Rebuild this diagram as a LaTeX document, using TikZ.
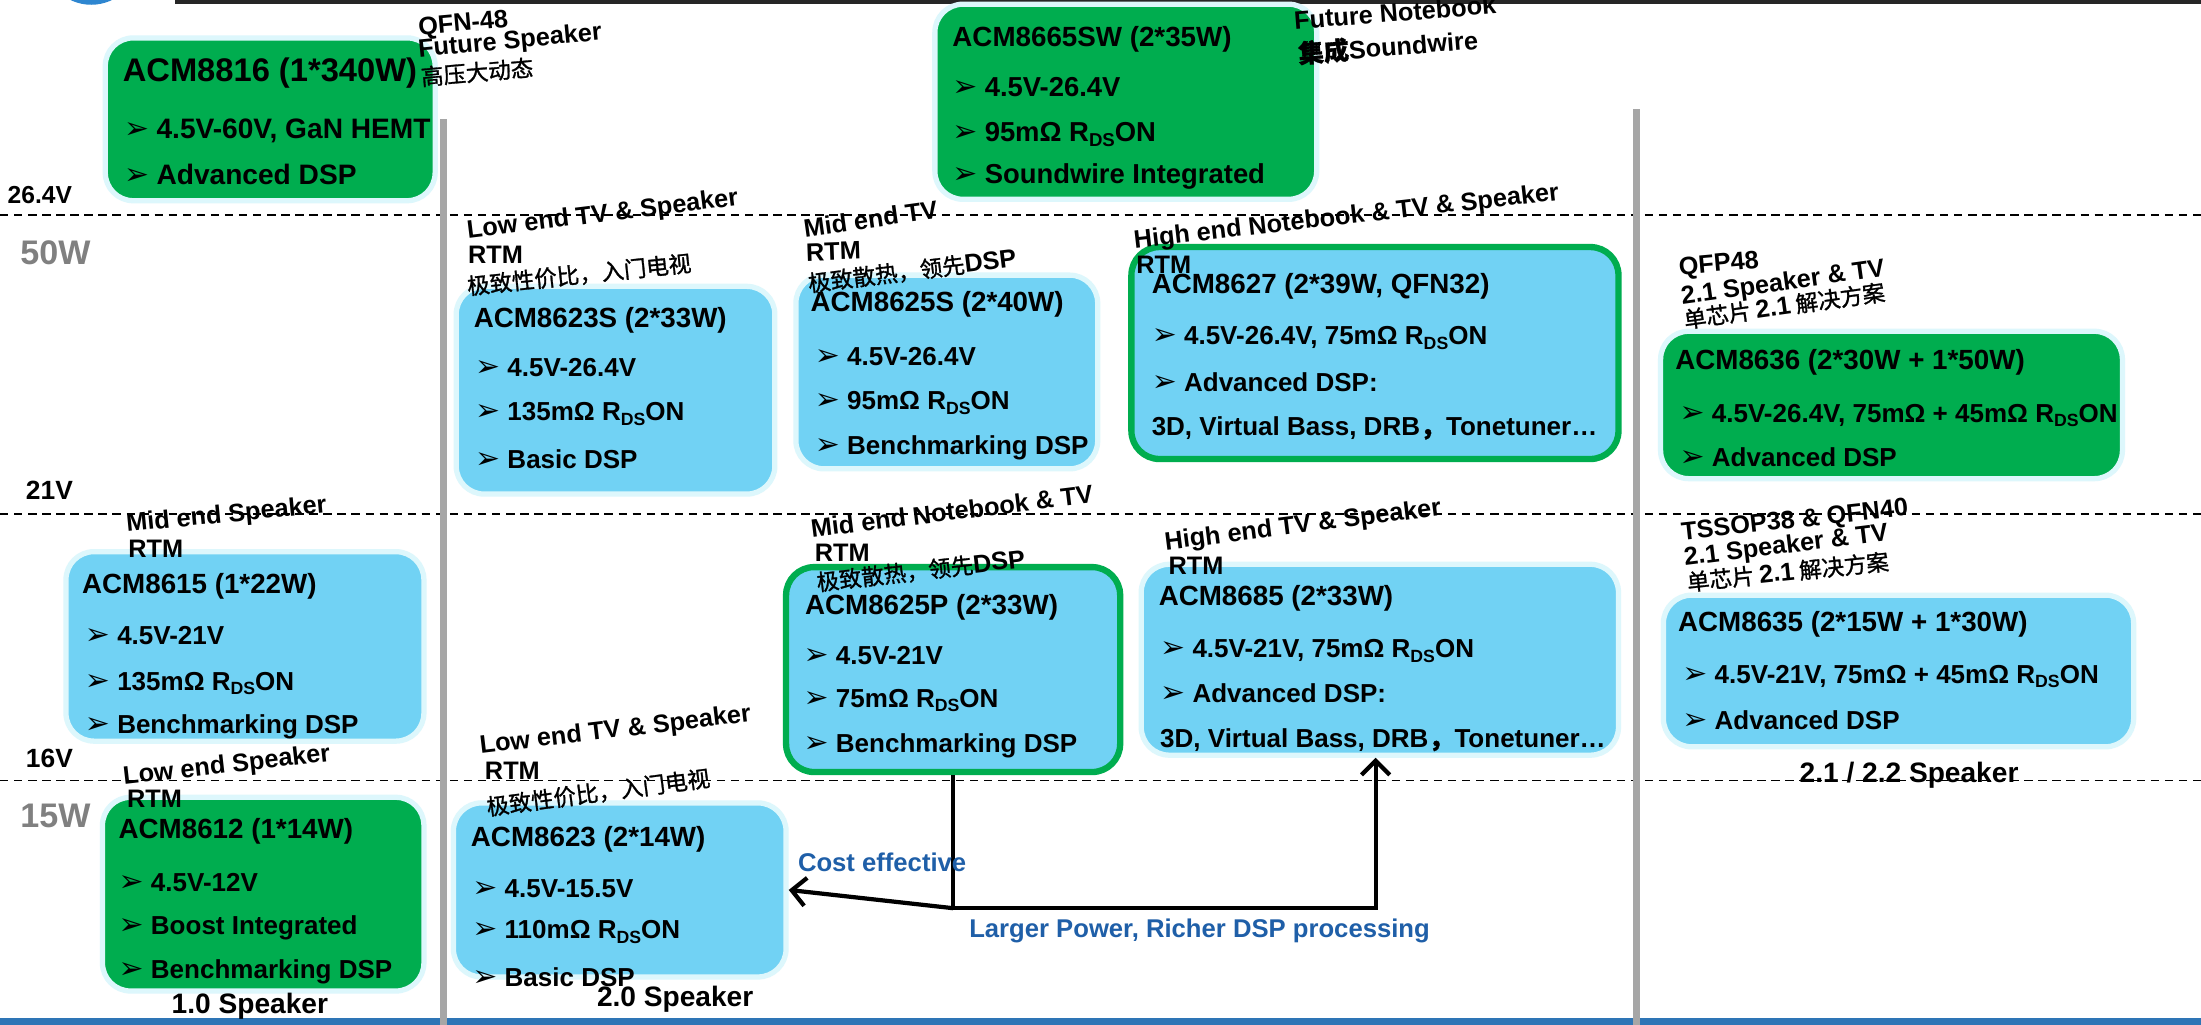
\documentclass[tikz,border=0pt]{standalone}
\usepackage{fontspec}
\usepackage{graphicx}
\setmainfont{Liberation Sans}
\newfontfamily\cjk{Noto Sans CJK SC}[FakeBold=1.2]
\newfontfamily\dejavu{DejaVu Sans}
\usetikzlibrary{fit,arrows.meta}
\definecolor{cgreen}{HTML}{00AD4F}
\definecolor{cblue}{HTML}{71D2F4}
\definecolor{chalo}{HTML}{DDF7FC}
\definecolor{cvline}{HTML}{A6A6A6}
\definecolor{cgrayt}{HTML}{808080}
\definecolor{cbluet}{HTML}{1F5FA8}
\definecolor{cband}{HTML}{2E75B6}
\definecolor{cdot}{HTML}{2E86D0}
\definecolor{cdark}{HTML}{262626}
\newcommand\arr{\makebox[9.2pt][l]{\dejavu\fontsize{8.5}{8.5}\selectfont ➢}}
\newcommand\rds{R\raisebox{-0.35ex}{\scalebox{0.68}{DS}}ON}
\newcommand\lat[1]{{\rmfamily\bfseries\fontsize{7.2}{7.2}\selectfont #1}}
\tikzset{
  chip/.style={rounded corners=8pt, inner sep=0pt},
  gbox/.style={chip, fill=cgreen, draw=chalo, line width=1.5pt},
  lbox/.style={chip, fill=cblue, draw=chalo, line width=1.5pt},
  kbox/.style={chip, fill=cblue, draw=cgreen, line width=1.8pt},
  ttl/.style={anchor=west, inner sep=0pt, font=\bfseries\fontsize{#1}{#1}\selectfont},
  ttl/.default=7.9,
  btxt/.style={anchor=west, inner sep=0pt, font=\bfseries\fontsize{#1}{#1}\selectfont},
  btxt/.default=7.4,
  note/.style={anchor=base west, inner sep=0pt, font=\bfseries\fontsize{7.2}{7.2}\selectfont},
  cnote/.style={anchor=base west, inner sep=0pt, font=\cjk\fontsize{6.4}{6.4}\selectfont},
  lvl/.style={anchor=west, inner sep=0pt, font=\bfseries\fontsize{7.5}{7.5}\selectfont},
  pwr/.style={anchor=west, inner sep=0pt, text=cgrayt, font=\bfseries\fontsize{9.7}{9.7}\selectfont},
  spk/.style={inner sep=0pt, font=\bfseries\fontsize{8}{8}\selectfont},
  bluet/.style={anchor=west, inner sep=0pt, text=cbluet, font=\bfseries\fontsize{7.3}{7.3}\selectfont},
  conn/.style={line width=1.2pt, black},
  tip/.style={-{Straight Barb[length=4pt,width=8pt,line width=1.2pt]}},
  dline/.style={black, line width=0.5pt, dash pattern=on 2.4pt off 1.6pt},
  vline/.style={cvline, line width=2pt}
}
\begin{document}
\begin{tikzpicture}[x=0.014037cm, y=-0.014037cm]
\useasboundingbox (0,0) rectangle (1568,730);
\fill[white] (0,0) rectangle (1568,730);
% frame decorations
\fill[cdark] (125,0) rectangle (1568,2.9);
\fill[cdot] (65,-30.4) circle[radius=13.5pt];
\fill[cband] (0,725.5) rectangle (1568,730);
% level lines
\draw[dline] (0,153) -- (1568,153);
\draw[dline] (0,366) -- (1568,366);
\draw[dline] (0,556) -- (1568,556);
\draw[vline] (316,85) -- (316,730);
\draw[vline] (1166,78) -- (1166,730);
% level labels
\node[lvl, font=\bfseries\fontsize{7}{7}\selectfont] (l264) at (5,139) {26.4V};
\node[pwr] (l50) at (14,180) {50W};
\node[lvl] (l21) at (18,349) {21V};
\node[lvl] (l16) at (18,540) {16V};
\node[pwr] (l15) at (14,581) {15W};
% boxes
\node[gbox, fit={(75,27)(310,143)}] (b8816) {};
\node[gbox, fit={(666,3)(938,142)}] (b8665) {};
\node[lbox, fit={(325,204)(552,352)}] (b8623S) {};
\node[lbox, fit={(567,196)(782,334)}] (b8625S) {};
\node[kbox, fit={(806,176)(1153,327)}] (b8627) {};
\node[gbox, fit={(1183,236)(1512,341)}] (b8636) {};
\node[lbox, fit={(47,393)(302,528)}] (b8615) {};
\node[kbox, fit={(560,404)(798,550)}] (b8625P) {};
\node[lbox, fit={(813,402)(1153,538)}] (b8685) {};
\node[lbox, fit={(1185,424)(1520,532)}] (b8635) {};
\node[gbox, fit={(73,568)(302,706)}] (b8612) {};
\node[lbox, fit={(323,572)(560,696)}] (b8623) {};
% ACM8816
\node[ttl=9.3] (t8816) at (87,52) {ACM8816 (1*340W)};
\node[btxt=8] (t8816a) at (88,93) {\arr 4.5V-60V, GaN HEMT};
\node[btxt=8] (t8816b) at (88,124) {\arr Advanced DSP};
% ACM8665SW
\node[ttl] (t8665) at (678,28) {ACM8665SW (2*35W)};
\node[btxt=7.8] (t8665a) at (678,62) {\arr 4.5V-26.4V};
\node[btxt=7.8] (t8665b) at (678,96) {\arr 95mΩ \rds};
\node[btxt=7.8] (t8665c) at (678,126) {\arr Soundwire Integrated};
% ACM8623S
\node[ttl] (t8623S) at (337,228) {ACM8623S (2*33W)};
\node[btxt] (t8623Sa) at (338,262) {\arr 4.5V-26.4V};
\node[btxt] (t8623Sb) at (338,295) {\arr 135mΩ \rds};
\node[btxt] (t8623Sc) at (338,327) {\arr Basic DSP};
% ACM8625S
\node[ttl] (t8625S) at (577,217) {ACM8625S (2*40W)};
\node[btxt] (t8625Sa) at (580,254) {\arr 4.5V-26.4V};
\node[btxt] (t8625Sb) at (580,287) {\arr 95mΩ \rds};
\node[btxt] (t8625Sc) at (580,319) {\arr Benchmarking DSP};
% ACM8627
\node[ttl] (t8627) at (820,204) {ACM8627 (2*39W, QFN32)};
\node[btxt] (t8627a) at (820,241) {\arr 4.5V-26.4V, 75mΩ \rds};
\node[btxt] (t8627b) at (820,272) {\arr Advanced DSP:};
\node[btxt] (t8627c) at (820,305) {3D, Virtual Bass, DRB{\cjk ，}Tonetuner…};
% ACM8636
\node[ttl] (t8636) at (1193,258) {ACM8636 (2*30W + 1*50W)};
\node[btxt] (t8636a) at (1196,296) {\arr 4.5V-26.4V, 75mΩ + 45mΩ \rds};
\node[btxt] (t8636b) at (1196,326) {\arr Advanced DSP};
% ACM8615
\node[ttl] (t8615) at (58,418) {ACM8615 (1*22W)};
\node[btxt] (t8615a) at (60,453) {\arr 4.5V-21V};
\node[btxt] (t8615b) at (60,487) {\arr 135mΩ \rds};
\node[btxt] (t8615c) at (60,518) {\arr Benchmarking DSP};
% ACM8625P
\node[ttl] (t8625P) at (573,433) {ACM8625P (2*33W)};
\node[btxt] (t8625Pa) at (572,467) {\arr 4.5V-21V};
\node[btxt] (t8625Pb) at (572,499) {\arr 75mΩ \rds};
\node[btxt] (t8625Pc) at (572,531) {\arr Benchmarking DSP};
% ACM8685
\node[ttl] (t8685) at (825,426) {ACM8685 (2*33W)};
\node[btxt] (t8685a) at (826,464) {\arr 4.5V-21V, 75mΩ \rds};
\node[btxt] (t8685b) at (826,494) {\arr Advanced DSP:};
\node[btxt] (t8685c) at (826,527) {3D, Virtual Bass, DRB{\cjk ，}Tonetuner…};
% ACM8635
\node[ttl] (t8635) at (1195,445) {ACM8635 (2*15W + 1*30W)};
\node[btxt] (t8635a) at (1198,482) {\arr 4.5V-21V, 75mΩ + 45mΩ \rds};
\node[btxt] (t8635b) at (1198,513) {\arr Advanced DSP};
% ACM8612
\node[ttl] (t8612) at (84,592) {ACM8612 (1*14W)};
\node[btxt] (t8612a) at (84,629) {\arr 4.5V-12V};
\node[btxt] (t8612b) at (84,661) {\arr Boost Integrated};
\node[btxt] (t8612c) at (84,692) {\arr Benchmarking DSP};
% ACM8623
\node[ttl] (t8623) at (335,598) {ACM8623 (2*14W)};
\node[btxt] (t8623a) at (336,633) {\arr 4.5V-15.5V};
\node[btxt] (t8623b) at (336,664) {\arr 110mΩ \rds};
\node[btxt] (t8623c) at (336,696) {\arr Basic DSP};
% annotations (baselines)
\node[note, rotate=5] (n1a) at (298,25) {QFN-48};
\node[note, rotate=5.5] (n1b) at (298,41) {Future Speaker};
\node[cnote, rotate=5] (n1c) at (300,61) {高压大动态};
\node[note, rotate=4.5] (n2a) at (922,21) {Future Notebook};
\node[note, rotate=4.5] (n2b) at (925,45) {{\cjk 集成}Soundwire};
\node[note, rotate=7] (n3a) at (333,170) {Low end TV \& Speaker};
\node[note] (n3b) at (333,188) {RTM};
\node[cnote, rotate=6] (n3c) at (333,210) {极致性价比，入门电视};
\node[note, rotate=8] (n4a) at (573,169) {Mid end TV};
\node[note, rotate=2] (n4b) at (574,186) {RTM};
\node[cnote, rotate=7] (n4c) at (576,208) {极致散热，领先\lat{DSP}};
\node[note, rotate=6.5] (n5a) at (808,177) {High end Notebook \& TV \& Speaker};
\node[note] (n5b) at (809,195) {RTM};
\node[note, rotate=5] (n6a) at (1196,196) {QFP48};
\node[note, rotate=8] (n6b) at (1198,217) {2.1 Speaker \& TV};
\node[cnote, rotate=8] (n6c) at (1200,234) {单芯片 \lat{2.1} 解决方案};
\node[note, rotate=5.5] (n7a) at (90,379) {Mid end Speaker};
\node[note] (n7b) at (91,397) {RTM};
\node[note, rotate=7] (n8a) at (578,383) {Mid end Notebook \& TV};
\node[note] (n8b) at (580,400) {RTM};
\node[cnote, rotate=6.5] (n8c) at (582,421) {极致散热，领先\lat{DSP}};
\node[note, rotate=7.2] (n9a) at (830,392) {High end TV \& Speaker};
\node[note] (n9b) at (832,409) {RTM};
\node[note, rotate=6.3] (n10a) at (1198,385) {TSSOP38 \& QFN40};
\node[note, rotate=7] (n10b) at (1200,403) {2.1 Speaker \& TV};
\node[cnote, rotate=6] (n10c) at (1202,421) {单芯片 \lat{2.1} 解决方案};
\node[note, rotate=6.5] (n11a) at (88,559) {Low end Speaker};
\node[note] (n11b) at (90,575) {RTM};
\node[note, rotate=6.8] (n12a) at (342,537) {Low end TV \& Speaker};
\node[note] (n12b) at (345,555) {RTM};
\node[cnote, rotate=7.5] (n12c) at (347,581) {极致性价比，入门电视};
% speaker class labels
\node[spk] (s10) at (178,717) {1.0 Speaker};
\node[spk] (s20) at (481,712) {2.0 Speaker};
\node[spk] (s21) at (1360,552) {2.1 / 2.2 Speaker};
% connectors
\coordinate (j) at (679,647);
\coordinate (k) at (980,647);
\draw[conn] (b8625P.south -| j) -- (j);
\draw[conn, tip] (j) -- (k) -- (k |- b8685.south);
\draw[conn, tip] (j) -- (b8623.east);
\node[bluet] (ce) at (568,614) {Cost effective};
\node[bluet] (lp) at (690,663) {Larger Power, Richer DSP processing};
\end{tikzpicture}
\end{document}
